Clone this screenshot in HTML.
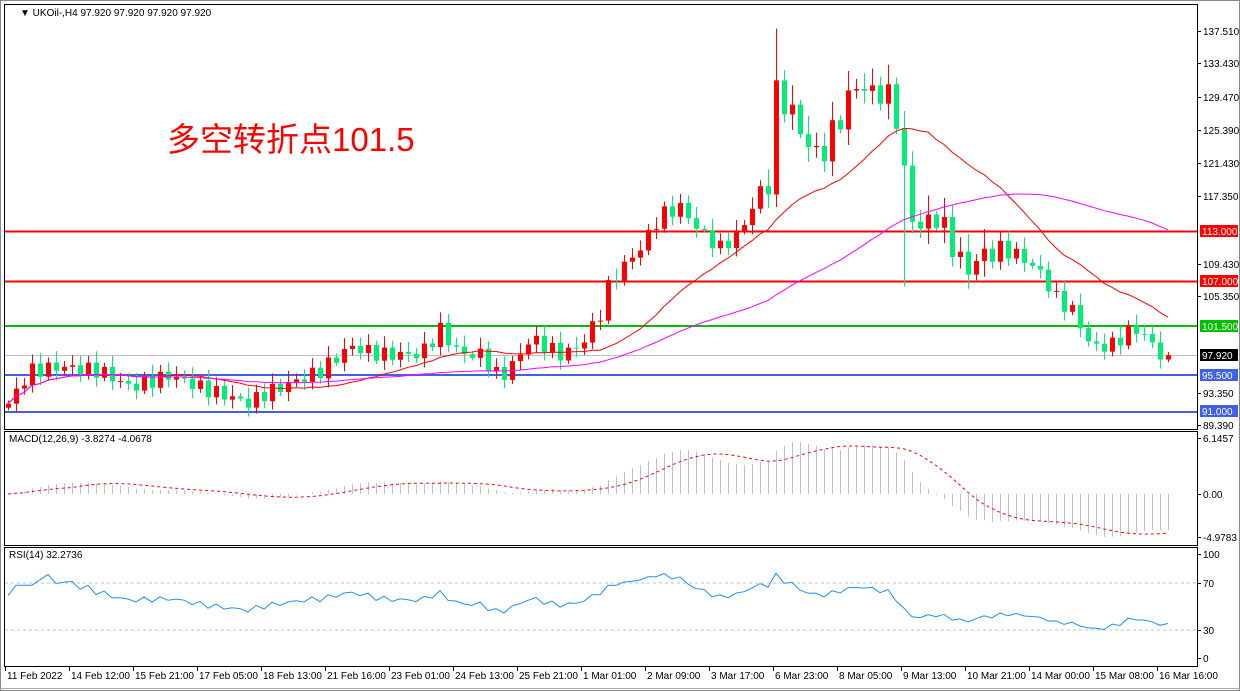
<!DOCTYPE html>
<html><head><meta charset="utf-8"><style>
html,body{margin:0;padding:0;background:#fff;width:1240px;height:691px;overflow:hidden}
svg{display:block}
text{font-family:"Liberation Sans",sans-serif;font-size:10px;fill:#000}
</style></head><body>
<svg id="s" width="1240" height="691" xmlns="http://www.w3.org/2000/svg">
<rect x="0" y="0" width="1240" height="691" fill="#fff"/>
<rect x="0.5" y="0.5" width="1239" height="690" fill="none" stroke="#888"/>
<rect x="4.5" y="4.5" width="1193" height="425" fill="none" stroke="#000"/>
<rect x="4.5" y="431.5" width="1193" height="114" fill="none" stroke="#000"/>
<rect x="4.5" y="547.5" width="1193" height="119" fill="none" stroke="#000"/>
<line x1="0" y1="688.5" x2="1240" y2="688.5" stroke="#aaa"/>
<g id="bg"></g>
<line x1="5" y1="355.5" x2="1197" y2="355.5" stroke="#c0c0c0"/>
<line x1="5" y1="231.5" x2="1197" y2="231.5" stroke="#f00" stroke-width="2"/>
<line x1="5" y1="281.5" x2="1197" y2="281.5" stroke="#f00" stroke-width="2"/>
<line x1="5" y1="326" x2="1197" y2="326" stroke="#00c000" stroke-width="2"/>
<line x1="5" y1="375" x2="1197" y2="375" stroke="#4060e8" stroke-width="2"/>
<line x1="5" y1="412" x2="1197" y2="412" stroke="#4060e8" stroke-width="2"/>
<line x1="5" y1="583" x2="1197" y2="583" stroke="#c0c0c0" stroke-dasharray="3,3"/>
<line x1="5" y1="630" x2="1197" y2="630" stroke="#c0c0c0" stroke-dasharray="3,3"/>
<g id="g"></g>
<text x="20" y="16" font-size="10">▼ UKOil-,H4  97.920 97.920 97.920 97.920</text>
<text x="167" y="151" style="font-size:33px;fill:#f00;font-family:'Liberation Sans','Noto Sans CJK SC',sans-serif">多空转折点101.5</text>
<text x="9" y="442">MACD(12,26,9) -3.8274 -4.0678</text>
<text x="9" y="558">RSI(14) 32.2736</text>
<g id="ax"></g>
</svg>
<script>
var NS="http://www.w3.org/2000/svg";
function el(p,t,a,txt){var e=document.createElementNS(NS,t);for(var k in a)e.setAttribute(k,a[k]);if(txt!=null)e.textContent=txt;document.getElementById(p).appendChild(e);return e;}
function Y(p){return 31+(137.51-p)*8.188;}
var wp=[[8,92],[30,96],[60,96.5],[100,96],[130,94],[170,95.5],[200,94],[250,92],[260,93],[290,94.5],[320,96],[350,99],[380,98],[420,98],[440,101],[460,98],[480,98],[500,95],[520,98],[530,100],[560,98],[580,99],[600,103],[610,107],[640,111],[660,115],[680,116],[700,113],[720,111],[740,113],[760,118],[768,119],[775,130],[790,128],[805,124],[820,122],[840,127],[855,131],[870,130],[885,130],[895,128],[905,119],[915,113],[935,115],[950,112],[965,108],[980,110],[1000,111],[1020,110],[1040,108],[1055,105],[1075,103],[1090,99],[1110,99],[1130,101],[1140,101],[1160,98],[1166,97.9]];
function interp(x){for(var i=0;i<wp.length-1;i++){if(x<=wp[i+1][0]){var a=wp[i],b=wp[i+1];return a[1]+(b[1]-a[1])*(x-a[0])/(b[0]-a[0]);}}return wp[wp.length-1][1];}
var N=146,cl=[],op=[],hi=[],lo=[],xs=[];
var prev=91.5;
for(var i=0;i<N;i++){var x=8+8*i;xs.push(x);var c=interp(x)+Math.sin(i*2.7)*0.9*(x>760&&x<1000?1.8:1);if(i==N-1)c=97.92;
op.push(prev);cl.push(c);var w=0.4+Math.abs(Math.sin(i*1.3))*1.0*(x>760&&x<1000?2:1);
hi.push(Math.max(prev,c)+w);lo.push(Math.min(prev,c)-w*0.8);prev=c;}
hi[96]=137.8;lo[112]=106.3;
for(var i=0;i<N;i++){var up=cl[i]>=op[i],col=up?"#f00":"#00ee76";
el("g","line",{x1:xs[i]+.5,x2:xs[i]+.5,y1:Y(hi[i]),y2:Y(lo[i]),stroke:col});
var t=Y(Math.max(op[i],cl[i])),b=Y(Math.min(op[i],cl[i]));
el("g","rect",{x:xs[i]-2,y:t,width:5,height:Math.max(1,b-t),fill:col});}
function sma(n){var r=[];for(var i=0;i<N;i++){var s=0,k=0;for(var j=Math.max(0,i-n+1);j<=i;j++){s+=cl[j];k++;}r.push(s/k);}return r;}
function pl(arr,f,col,dash,g){var p="";for(var i=0;i<N;i++)p+=(i?"L":"M")+xs[i]+","+f(arr[i]).toFixed(1);var a={d:p,fill:"none",stroke:col};if(dash)a["stroke-dasharray"]=dash;el(g||"g","path",a);}
pl(sma(20),Y,"#f00");pl(sma(50).map(function(v,i){return v;}),Y,"#f0f");
function ema(a,n){var k=2/(n+1),r=[a[0]];for(var i=1;i<a.length;i++)r.push(a[i]*k+r[i-1]*(1-k));return r;}
var e12=ema(cl,12),e26=ema(cl,26),m=[];for(var i=0;i<N;i++)m.push(e12[i]-e26[i]);
var mx=Math.max.apply(null,m),mn=Math.min.apply(null,m);
var sc=Math.min(57/mx,43/-mn);
function MY(v){return 494-v*sc;}
for(var i=0;i<N;i++)el("g","line",{x1:xs[i]+.5,x2:xs[i]+.5,y1:494,y2:MY(m[i]),stroke:"#c0c0c0"});
var sig=[];for(var i=0;i<N;i++){var s=0,k=0;for(var j=Math.max(0,i-8);j<=i;j++){s+=m[j];k++;}sig.push(s/k);}
pl(sig,MY,"#f00","3,3");
var rsi=[50],ag=0,al=0;for(var i=1;i<N;i++){var d=cl[i]-cl[i-1];var g=d>0?d:0,l=d<0?-d:0;if(i<=14){ag+=g/14;al+=l/14;}else{ag=(ag*13+g)/14;al=(al*13+l)/14;}rsi.push(al==0?70:100-100/(1+ag/al));}
rsi[0]=60;
pl(rsi,function(v){return 658-v*1.04;},"#1e90ff",null);
var lab=[[31,"137.510"],[63,"133.430"],[97,"129.470"],[130,"125.390"],[163,"121.430"],[196,"117.350"],[264,"109.430"],[296,"105.350"],[393,"93.350"],[425,"89.390"],[438,"6.1457"],[494,"0.00"],[537,"-4.9783"],[554,"100"],[583,"70"],[630,"30"],[658,"0"]];
lab.forEach(function(l){el("ax","line",{x1:1197,x2:1201,y1:l[0]+.5,y2:l[0]+.5,stroke:"#000"});el("ax","text",{x:1203,y:l[0]+4},l[1]);});
[[231,"113.000","#f00","#fff"],[281,"107.000","#f00","#fff"],[326,"101.500","#00c000","#fff"],[355,"97.920","#000","#fff"],[375,"95.500","#4060e8","#fff"],[411,"91.000","#4060e8","#fff"]].forEach(function(b){el("ax","rect",{x:1200,y:b[0]-6,width:38,height:12,fill:b[2]});el("ax","text",{x:1202,y:b[0]+4,style:"fill:"+b[3]},b[1]);});
var dl=["11 Feb 2022","14 Feb 12:00","15 Feb 21:00","17 Feb 05:00","18 Feb 13:00","21 Feb 16:00","23 Feb 01:00","24 Feb 13:00","25 Feb 21:00","1 Mar 01:00","2 Mar 09:00","3 Mar 17:00","6 Mar 23:00","8 Mar 05:00","9 Mar 13:00","10 Mar 21:00","14 Mar 00:00","15 Mar 08:00","16 Mar 16:00"];
dl.forEach(function(d,i){var x=5+64*i;el("ax","line",{x1:x+.5,x2:x+.5,y1:667,y2:671,stroke:"#000"});el("ax","text",{x:x+2,y:679},d);});
</script>
</body></html>
